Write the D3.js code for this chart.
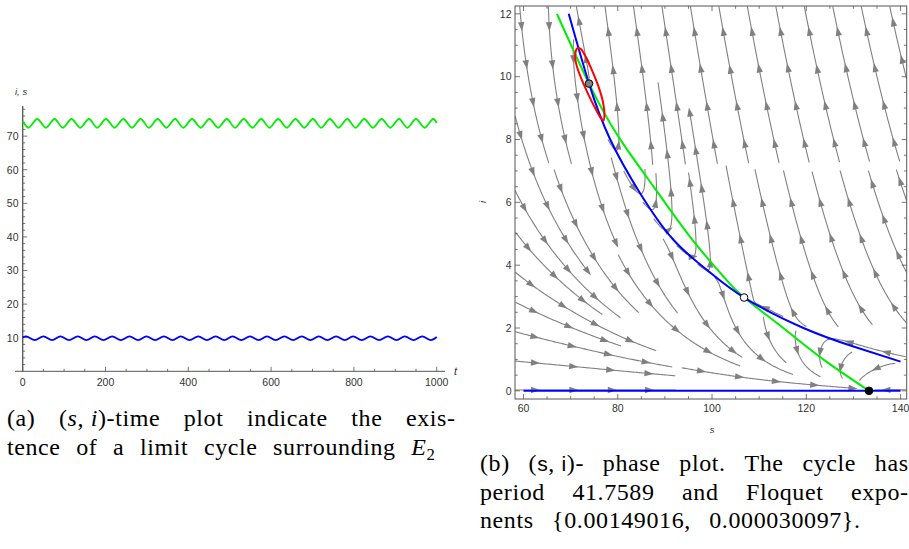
<!DOCTYPE html>
<html>
<head>
<meta charset="utf-8">
<script src="https://cdn.jsdelivr.net/npm/d3@7"></script>
<style>
  html, body { margin: 0; padding: 0; background: #fff; }
  svg { display: block; }
</style>
</head>
<body>
<svg id="fig" width="909" height="549"></svg>
<script>
// ---------- (a) time plot: extrema ----------
const sPeakT = [35, 77, 118, 160, 201, 243, 285, 326, 368, 409, 451, 493, 534, 576, 617, 659, 701, 742, 784, 825, 867, 909, 950, 992];
const sTroughT = [14, 56, 97, 139, 180, 222, 264, 305, 347, 388, 430, 472, 513, 555, 596, 638, 680, 721, 763, 804, 846, 888, 929, 971];
const sPeak = 75.1, sTrough = 72.5, sStart = 74.5, sEnd = 73.9;

const iPeakT = [8, 50, 91, 133, 174, 216, 258, 299, 341, 382, 424, 466, 507, 549, 590, 632, 674, 715, 757, 798, 840, 882, 923, 965];
const iTroughT = [29, 71, 112, 154, 195, 237, 279, 320, 362, 403, 445, 487, 528, 570, 611, 653, 695, 736, 778, 819, 861, 903, 944, 986];
const iPeak = 10.4, iTrough = 9.3, iStart = 10.1, iEnd = 10.2;

const tTicks = [0, 200, 400, 600, 800, 1000];
const vTicks = [10, 20, 30, 40, 50, 60, 70];

// ---------- (b) phase plot ----------
const sTicks = [60, 80, 100, 120, 140];
const iTicks = [0, 2, 4, 6, 8, 10, 12];

// i-nullcline (blue)
const blueNullS = [69.6, 73.9, 78.4, 84.7, 91.8, 98.9, 106.8, 119.4, 130.0, 140.0];
const blueNullI = [12.0, 9.78, 8.0, 6.3, 4.81, 3.85, 2.97, 2.0, 1.41, 0.93];
// s-nullcline (green)
const greenNullS = [67.1, 73.9, 80.1, 87.6, 95.3, 102.4, 106.8, 115.1, 123.6, 133.3];
const greenNullI = [12.0, 9.78, 8.1, 6.5, 4.91, 3.64, 2.97, 2.0, 1.0, 0.0];
// limit cycle (red)
const cycleS = [71.45, 70.96, 71.32, 72.38, 73.78, 75.20, 76.41, 76.96, 77.17, 76.83, 75.90, 74.63, 73.29, 72.17];
const cycleI = [10.91, 10.65, 10.33, 9.90, 9.43, 9.00, 8.68, 8.61, 8.79, 9.21, 9.69, 10.17, 10.60, 10.88];
// equilibria
const eqS = [73.9, 106.8, 133.3];
const eqI = [9.78, 2.97, 0.0];
const eqFill = ["#808080", "#ffffff", "#000000"];

const svg = d3.select("#fig");
const axisColor = "#555";
const labelColor = "#333";
const sansFont = "'Liberation Sans', Arial, sans-serif";
const serifFont = "'Liberation Serif', 'Times New Roman', serif";

// ================= (a) =================
const tx = d3.scaleLinear().domain([0, 1000]).range([22.7, 436.7]);
const ty = d3.scaleLinear().domain([0, 79]).range([371.3, 105.9]);

function buildSeries(v0, peakT, peakV, troughT, troughV, v1) {
  const pts = [{ t: 0, v: v0 }];
  peakT.forEach(t => pts.push({ t: t, v: peakV }));
  troughT.forEach(t => pts.push({ t: t, v: troughV }));
  pts.push({ t: 1000, v: v1 });
  return pts.sort((a, b) => a.t - b.t);
}
const sSeries = buildSeries(sStart, sPeakT, sPeak, sTroughT, sTrough, sEnd);
const iSeries = buildSeries(iStart, iPeakT, iPeak, iTroughT, iTrough, iEnd);

const ga = svg.append("g");

// axes
ga.append("line").attr("x1", 15).attr("x2", 445).attr("y1", ty(0)).attr("y2", ty(0))
  .attr("stroke", axisColor).attr("stroke-width", 1);
ga.append("line").attr("x1", tx(0)).attr("x2", tx(0)).attr("y1", ty(79)).attr("y2", ty(0))
  .attr("stroke", axisColor).attr("stroke-width", 1.3);

d3.range(0, 1001, 50).forEach(t => {
  const major = t % 200 === 0;
  ga.append("line").attr("x1", tx(t)).attr("x2", tx(t))
    .attr("y1", ty(0)).attr("y2", ty(0) - (major ? 4.5 : 2.5))
    .attr("stroke", axisColor).attr("stroke-width", 0.8);
});
d3.range(2, 79, 2).forEach(v => {
  const major = v % 10 === 0;
  ga.append("line").attr("x1", tx(0)).attr("x2", tx(0) + (major ? 4.5 : 2.5))
    .attr("y1", ty(v)).attr("y2", ty(v))
    .attr("stroke", axisColor).attr("stroke-width", 0.8);
});

ga.selectAll(".tlab").data(tTicks).enter().append("text")
  .attr("x", d => tx(d)).attr("y", ty(0) + 15)
  .attr("text-anchor", "middle").attr("font-family", sansFont).attr("font-size", 10.5)
  .attr("fill", labelColor).text(d => d);
ga.selectAll(".vlab").data(vTicks).enter().append("text")
  .attr("x", 18.5).attr("y", d => ty(d) + 3.8)
  .attr("text-anchor", "end").attr("font-family", sansFont).attr("font-size", 10.5)
  .attr("fill", labelColor).text(d => d);

ga.append("text").attr("x", 15).attr("y", 95).attr("font-family", sansFont)
  .attr("font-size", 9.5).attr("font-style", "italic").attr("fill", labelColor).text("i, s");
ga.append("text").attr("x", 454).attr("y", 375).attr("font-family", sansFont)
  .attr("font-size", 11).attr("font-style", "italic").attr("fill", labelColor).text("t");

const tline = d3.line().x(d => tx(d.t)).y(d => ty(d.v)).curve(d3.curveMonotoneX);
ga.append("path").datum(sSeries).attr("d", tline).attr("fill", "none")
  .attr("stroke", "#00ee00").attr("stroke-width", 1.8);
ga.append("path").datum(iSeries).attr("d", tline).attr("fill", "none")
  .attr("stroke", "#0000ff").attr("stroke-width", 1.8);

// ================= (b) =================
const px = d3.scaleLinear().domain([58.2, 141.3]).range([515, 906.7]);
const py = d3.scaleLinear().domain([-0.26, 12.25]).range([399, 6]);
const gb = svg.append("g");

gb.append("clipPath").attr("id", "frameclip").append("rect")
  .attr("x", 515).attr("y", 6).attr("width", 391.7).attr("height", 393);

// stream field built from the two nullclines
function lerp(xs, ys, x) {
  const n = xs.length;
  let k = 0;
  if (x >= xs[n - 1]) k = n - 2;
  else if (x > xs[0]) { while (xs[k + 1] < x) k++; }
  const f = (x - xs[k]) / (xs[k + 1] - xs[k]);
  return ys[k] + f * (ys[k + 1] - ys[k]);
}
const blueAsc = blueNullI.map((v, k) => [v, blueNullS[k]]).sort((a, b) => a[0] - b[0]);
const bI = blueAsc.map(d => d[0]), bS = blueAsc.map(d => d[1]);
const kx = px(1) - px(0), ky = py(0) - py(1);

function vel(x, y) {
  const s = px.invert(x), i = Math.max(py.invert(y), 0);
  const ds = 60 * (lerp(greenNullS, greenNullI, s) - i);
  const d = s - lerp(bI, bS, i);
  const di = Math.pow(i, 1.5) * d / (1 + Math.abs(d) / 15);
  const vx = ds * kx, vy = -di * ky;
  const m = Math.hypot(vx, vy);
  return m < 1e-6 ? null : [vx / m, vy / m];
}

const dsep = 19, dtest = 8.5, h = 1.2, maxSteps = 130;
const cellSize = dtest;
const grid = new Map();
const yBottom = py(0);
const eqPx = eqS.map((s, k) => [px(s), py(eqI[k])]);

function addPt(x, y) {
  const k = Math.floor(x / cellSize) * 1000 + Math.floor(y / cellSize);
  if (!grid.has(k)) grid.set(k, []);
  grid.get(k).push([x, y]);
}
function near(x, y, d) {
  const r = Math.ceil(d / cellSize);
  const cx = Math.floor(x / cellSize), cy = Math.floor(y / cellSize);
  for (let a = cx - r; a <= cx + r; a++) {
    for (let b = cy - r; b <= cy + r; b++) {
      const arr = grid.get(a * 1000 + b);
      if (!arr) continue;
      for (const p of arr) {
        if ((p[0] - x) ** 2 + (p[1] - y) ** 2 < d * d) return true;
      }
    }
  }
  return false;
}
function trace(x, y, sign) {
  const pts = [];
  for (let n = 0; n < maxSteps; n++) {
    const v1 = vel(x, y); if (!v1) break;
    const v2 = vel(x + sign * v1[0] * h / 2, y + sign * v1[1] * h / 2); if (!v2) break;
    const nx = x + sign * v2[0] * h, ny = y + sign * v2[1] * h;
    if (nx < 515 || nx > 906.7 || ny < 6 || ny > yBottom + 0.5) break;
    if (near(nx, ny, dtest)) break;
    if (eqPx.some(e => Math.hypot(e[0] - nx, e[1] - ny) < 5)) break;
    let hit = false;
    for (let k = 0; k < pts.length - 20; k++) {
      if ((pts[k][0] - nx) ** 2 + (pts[k][1] - ny) ** 2 < dtest * dtest) { hit = true; break; }
    }
    if (hit) break;
    pts.push([nx, ny]); x = nx; y = ny;
  }
  return pts;
}

const streams = [];
for (let gx = 520; gx < 905; gx += dsep / 2) {
  for (let gy = 10; gy < yBottom; gy += dsep / 2) {
    if (near(gx, gy, dsep)) continue;
    const back = trace(gx, gy, -1);
    const fwd = trace(gx, gy, 1);
    const line = back.reverse().concat([[gx, gy]], fwd);
    if (line.length * h < 18) continue;
    line.forEach(p => addPt(p[0], p[1]));
    streams.push(line);
  }
}

const gs = gb.append("g").attr("clip-path", "url(#frameclip)");
gs.selectAll(".stream").data(streams).enter().append("path")
  .attr("d", d3.line()).attr("fill", "none")
  .attr("stroke", "#808080").attr("stroke-width", 1.1);

// arrowheads along each stream line
const arrows = [];
streams.forEach(line => {
  let acc = 0, next = 20;
  for (let k = 1; k < line.length; k++) {
    const dx = line[k][0] - line[k - 1][0], dy = line[k][1] - line[k - 1][1];
    const seg = Math.hypot(dx, dy);
    acc += seg;
    if (acc >= next && seg > 0) {
      arrows.push({ x: line[k][0], y: line[k][1], ux: dx / seg, uy: dy / seg });
      next += 38;
    }
  }
});
gs.selectAll(".arrow").data(arrows).enter().append("path")
  .attr("d", a => {
    const L = 4.6, W = 3.2;
    const tip = [a.x + a.ux * L, a.y + a.uy * L];
    const b1 = [a.x - a.ux * L - a.uy * W, a.y - a.uy * L + a.ux * W];
    const b2 = [a.x - a.ux * L + a.uy * W, a.y - a.uy * L - a.ux * W];
    return `M${tip}L${b1}L${b2}Z`;
  })
  .attr("fill", "#808080");

// nullclines, cycle, equilibria
const nullLine = d3.line().x(d => px(d[0])).y(d => py(d[1])).curve(d3.curveNatural);
const gc = gb.append("g").attr("clip-path", "url(#frameclip)");
gc.append("path").datum(greenNullS.map((s, k) => [s, greenNullI[k]]))
  .attr("d", nullLine).attr("fill", "none").attr("stroke", "#00ee00").attr("stroke-width", 2);
gc.append("path").datum(blueNullS.map((s, k) => [s, blueNullI[k]]))
  .attr("d", nullLine).attr("fill", "none").attr("stroke", "#0000ff").attr("stroke-width", 2);
gc.append("line").attr("x1", px(60)).attr("x2", px(140)).attr("y1", py(0)).attr("y2", py(0))
  .attr("stroke", "#0000ff").attr("stroke-width", 2);
gc.append("path").datum(cycleS.map((s, k) => [s, cycleI[k]]))
  .attr("d", d3.line().x(d => px(d[0])).y(d => py(d[1])).curve(d3.curveCatmullRomClosed))
  .attr("fill", "none").attr("stroke", "#ff0000").attr("stroke-width", 2);
gc.selectAll(".eq").data(eqS).enter().append("circle")
  .attr("cx", d => px(d)).attr("cy", (d, k) => py(eqI[k])).attr("r", 3.8)
  .attr("fill", (d, k) => eqFill[k]).attr("stroke", "#000").attr("stroke-width", 1);

// frame + ticks
gb.append("rect").attr("x", 515).attr("y", 6).attr("width", 391.7).attr("height", 393)
  .attr("fill", "none").attr("stroke", axisColor).attr("stroke-width", 1);
d3.range(60, 141, 5).forEach(s => {
  const len = s % 20 === 0 ? 5 : 2.8;
  gb.append("line").attr("x1", px(s)).attr("x2", px(s)).attr("y1", 399).attr("y2", 399 - len)
    .attr("stroke", axisColor).attr("stroke-width", 0.8);
  gb.append("line").attr("x1", px(s)).attr("x2", px(s)).attr("y1", 6).attr("y2", 6 + len)
    .attr("stroke", axisColor).attr("stroke-width", 0.8);
});
d3.range(0, 12.01, 0.5).forEach(i => {
  const len = Math.abs(i % 2) < 1e-9 ? 5 : 2.8;
  gb.append("line").attr("x1", 515).attr("x2", 515 + len).attr("y1", py(i)).attr("y2", py(i))
    .attr("stroke", axisColor).attr("stroke-width", 0.8);
  gb.append("line").attr("x1", 906.7).attr("x2", 906.7 - len).attr("y1", py(i)).attr("y2", py(i))
    .attr("stroke", axisColor).attr("stroke-width", 0.8);
});
gb.selectAll(".slab").data(sTicks).enter().append("text")
  .attr("x", d => px(d)).attr("y", 412)
  .attr("text-anchor", "middle").attr("font-family", sansFont).attr("font-size", 10.5)
  .attr("fill", labelColor).text(d => d);
gb.selectAll(".ilab").data(iTicks).enter().append("text")
  .attr("x", 511.5).attr("y", d => py(d) + 3.8)
  .attr("text-anchor", "end").attr("font-family", sansFont).attr("font-size", 10.5)
  .attr("fill", labelColor).text(d => d);
gb.append("text").attr("x", 712).attr("y", 433).attr("text-anchor", "middle")
  .attr("font-family", sansFont).attr("font-size", 9.5).attr("font-style", "italic")
  .attr("fill", labelColor).text("s");
gb.append("text").attr("transform", "translate(486,202) rotate(-90)").attr("text-anchor", "middle")
  .attr("font-family", sansFont).attr("font-size", 9.5).attr("font-style", "italic")
  .attr("fill", labelColor).text("i");

// ================= captions =================
const capSize = 24, capTrack = 0.6;
function addRuns(t, runs) {
  runs.forEach(r => {
    const txt = typeof r === "string" ? r : r[0];
    const st = typeof r === "string" ? "r" : r[1];
    const sp = t.append("tspan").text(txt);
    if (st === "i") sp.attr("font-style", "italic");
    if (st === "ss") sp.attr("font-family", sansFont).attr("font-size", capSize * 0.88);
    if (st === "sub") sp.attr("font-size", capSize * 0.7).attr("dy", capSize * 0.2);
  });
}
function makeText(g, runs, x, y) {
  const t = g.append("text").attr("x", x).attr("y", y).attr("font-family", serifFont)
    .attr("font-size", capSize).attr("fill", "#000").style("letter-spacing", capTrack + "px");
  addRuns(t, runs);
  return t;
}
// justified line: words spread between x0 and x1
function justify(words, x0, x1, y) {
  const g = svg.append("g");
  const els = words.map(w => makeText(g, Array.isArray(w) ? w : [w], 0, y));
  const widths = els.map(e => e.node().getComputedTextLength() - capTrack);
  const gap = (x1 - x0 - d3.sum(widths)) / (words.length - 1);
  let x = x0;
  els.forEach((e, k) => { e.attr("x", x); x += widths[k] + gap; });
}
// last line of a paragraph: natural spacing, word gaps widened to reach x1
function natural(runs, x0, x1, y) {
  const t = makeText(svg, runs, x0, y);
  const w = t.node().getComputedTextLength() - capTrack;
  const spaces = runs.map(r => typeof r === "string" ? r : r[0]).join("").split(" ").length - 1;
  if (spaces > 0) t.style("word-spacing", ((x1 - x0 - w) / spaces) + "px");
}

justify(["(a)", ["(", ["s", "i"], ", ", ["i", "i"], ")-time"], "plot", "indicate", "the", "exis-"], 7, 455, 426);
natural(["tence of a limit cycle surrounding ", ["E", "i"], ["2", "sub"]], 7, 435, 455);

justify(["(b)", ["(", ["s", "ss"], ", ", ["i", "ss"], ")-"], "phase", "plot.", "The", "cycle", "has"], 480, 908, 471);
justify(["period", "41.7589", "and", "Floquet", "expo-"], 480, 908, 500);
natural(["nents {0.00149016, 0.000030097}."], 480, 860, 528);
</script>
</body>
</html>
